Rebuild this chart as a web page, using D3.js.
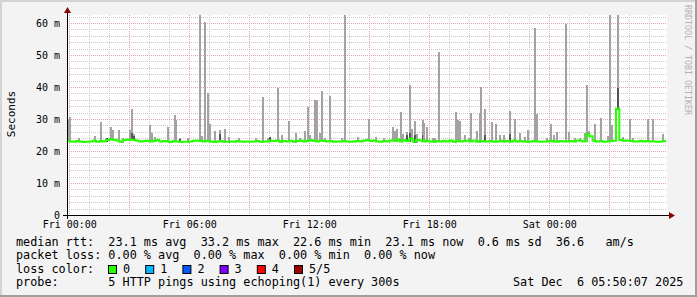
<!DOCTYPE html>
<html>
<head>
<meta charset="utf-8">
<script src="https://cdn.jsdelivr.net/npm/d3@7"></script>
<style>
  html, body { margin: 0; padding: 0; background: #f3f3f3; }
  svg { display: block; }
  text { font-family: "DejaVu Sans Mono", monospace; white-space: pre; fill: #000; }
</style>
</head>
<body>
<svg id="chart" width="697" height="297"></svg>
<script>
// ── Data ──────────────────────────────────────────────────────────────────────

// median rtt (ms), 10 minute steps starting Thu 23:50
const medianRtt = [
  23.3, 23.0, 22.9, 23.1, 23.0, 22.8,
  22.9, 23.0, 23.2, 22.9, 23.1, 23.0,
  23.4, 23.7, 23.5, 23.3, 22.9, 23.4,
  23.5, 23.6, 23.4, 23.2, 23.0, 23.1,
  23.2, 23.0, 23.2, 23.4, 23.0, 23.1,
  23.0, 22.8, 23.1, 23.0, 22.8, 22.9,
  22.9, 23.0, 23.2, 23.3, 23.1, 23.0,
  23.2, 23.0, 22.8, 23.0, 23.1, 22.9,
  22.9, 23.0, 22.9, 23.1, 23.0, 22.9,
  23.0, 22.9, 23.0, 23.1, 22.9, 23.0,
  23.0, 23.2, 23.1, 23.3, 22.9, 23.1,
  23.0, 23.2, 22.9, 23.1, 23.3, 23.0,
  23.2, 23.4, 23.1, 23.0, 23.3, 23.1,
  23.0, 23.1, 22.9, 23.0, 23.0, 23.1,
  23.0, 22.9, 23.0, 23.1, 23.0, 23.2,
  23.4, 23.1, 23.3, 23.0, 22.9, 23.1,
  23.0, 23.3, 23.2, 23.6, 23.0, 23.4,
  23.1, 23.8, 22.9, 23.5, 23.3, 23.0,
  23.3, 23.0, 22.9, 23.1, 23.0, 23.2,
  23.0, 23.3, 22.9, 23.2, 23.0, 23.1,
  23.2, 23.0, 23.3, 22.9, 23.1, 23.0,
  23.0, 23.1, 22.9, 23.0, 23.2, 23.0,
  23.1, 22.9, 23.3, 23.0, 23.1, 23.0,
  22.9, 23.0, 23.1, 23.0, 22.9, 23.0,
  23.0, 23.2, 23.0, 22.9, 23.1, 23.0,
  23.0, 23.1, 23.0, 23.3, 23.2, 23.0,
  25.2, 24.6, 23.2, 23.0, 23.1, 22.9,
  23.0, 23.1, 23.2, 33.2, 23.4, 23.2,
  23.3, 23.1, 23.0, 23.0, 23.2, 23.0,
  23.1, 23.0, 23.0, 22.9, 23.0, 23.1
];

// smoke spikes: [hours after Fri 00:00, max ping ms, inner ping ms, core ms]
const smoke = [
  [-0.12, 30.0], [-0.03, 30.5], [0.45, 24.2], [1.23, 24.7], [1.51, 29.1],
  [1.83, 24.2, 24.0], [2.03, 27.4], [2.13, 26.7], [2.43, 26.6], [2.63, 24.0],
  [2.96, 26.6], [3.08, 33.1, 25.5], [3.18, 25.4, 24.8], [3.96, 28.1], [4.08, 25.7],
  [4.21, 24.5], [4.86, 27.6], [5.23, 31.3], [5.30, 29.7], [5.50, 24.0, 23.9],
  [5.88, 24.0], [6.48, 70], [6.60, 24.7], [6.73, 60.2], [6.86, 38.2],
  [6.96, 28.4], [7.23, 26.3], [7.46, 26.6, 25.4], [7.73, 26.9], [7.93, 24.5],
  [8.43, 24.0], [9.30, 24.0], [9.63, 37.0], [9.88, 24.0], [9.98, 24.5, 24.3],
  [10.36, 39.8], [10.56, 25.0], [10.93, 29.5], [11.26, 25.6], [11.50, 24.0],
  [11.73, 26.3], [11.86, 33.9], [11.98, 25.0], [12.23, 36.0], [12.33, 36.0],
  [12.50, 25.6], [12.58, 38.9], [12.73, 24.0], [12.96, 37.2], [13.58, 24.0],
  [13.73, 70], [14.38, 24.5], [14.93, 29.9], [15.28, 24.5], [15.68, 24.0],
  [16.13, 27.6], [16.23, 26.3], [16.33, 26.9], [16.53, 32.3], [16.63, 25.4],
  [16.83, 26.0, 25.0], [16.96, 40.6, 25.5], [17.08, 26.9], [17.23, 29.5, 25.0], [17.33, 25.4],
  [17.61, 29.7, 25.0], [17.71, 28.9], [17.81, 27.6], [18.13, 24.0], [18.23, 24.0],
  [18.45, 50.9], [19.30, 32.3], [19.40, 29.7], [19.50, 29.5], [19.73, 25.0],
  [19.93, 24.0], [20.05, 32.0], [20.33, 26.3], [20.46, 32.0], [20.55, 39.9],
  [20.71, 33.2, 25.0], [21.08, 29.1], [21.28, 28.4], [21.50, 25.0], [21.68, 25.0],
  [21.96, 32.5, 25.4], [22.23, 29.9], [22.50, 25.5], [22.73, 24.4], [22.90, 26.6],
  [23.23, 58.4], [23.31, 31.6], [23.83, 24.0], [24.05, 28.4], [24.20, 25.0],
  [24.33, 26.0], [24.76, 59.7], [24.93, 26.0], [25.23, 24.0], [25.46, 24.0],
  [25.73, 25.6], [25.83, 40.6], [25.93, 26.3, 25.6], [26.23, 28.4], [26.51, 30.3],
  [26.88, 24.8], [26.96, 70], [27.06, 28.1], [27.40, 70, 39.8, 33.1], [27.63, 24.5],
  [27.98, 29.9], [28.13, 24.0], [28.88, 29.9], [29.13, 29.9], [29.63, 25.4]
];

const yTicks = [0, 10, 20, 30, 40, 50, 60];
const xLabelHours = [0, 6, 12, 18, 24];

const legendRows = [
  'median rtt:  23.1 ms avg  33.2 ms max  22.6 ms min  23.1 ms now  0.6 ms sd  36.6   am/s',
  'packet loss: 0.00 % avg  0.00 % max  0.00 % min  0.00 % now',
  'loss color:',
  'probe:       5 HTTP pings using echoping(1) every 300s'
];
const lossLabels = ['0', '1', '2', '3', '4', '5/5'];
const lossColors = ['#26ff00', '#00b8ff', '#0059ff', '#7e00ff', '#ff0000', '#a10000'];
const stamp = 'Sat Dec  6 05:50:07 2025';

// ── Scales ────────────────────────────────────────────────────────────────────

const fri0 = new Date(2025, 11, 5, 0, 0);
const at = h => new Date(+fri0 + h * 36e5);

const pL = 67, pR = 667, pT = 15, pB = 215;
const x = d3.scaleTime().domain([at(-0.115), at(29.885)]).range([pL, pR]);
const y = d3.scaleLinear().domain([0, 62.5]).range([pB, pT]);

const svg = d3.select('#chart');

// ── Frame ─────────────────────────────────────────────────────────────────────

svg.append('rect').attr('width', 697).attr('height', 297).attr('fill', '#f3f3f3');
svg.append('rect').attr('x', 0).attr('y', 0).attr('width', 697).attr('height', 2).attr('fill', '#d4d4d4');
svg.append('rect').attr('x', 0).attr('y', 0).attr('width', 2).attr('height', 297).attr('fill', '#d4d4d4');
svg.append('rect').attr('x', 0).attr('y', 295).attr('width', 697).attr('height', 2).attr('fill', '#9e9e9e');
svg.append('rect').attr('x', 695).attr('y', 0).attr('width', 2).attr('height', 297).attr('fill', '#9e9e9e');

svg.append('rect')
  .attr('x', pL).attr('y', pT)
  .attr('width', pR - pL).attr('height', pB - pT)
  .attr('fill', '#fff');

svg.append('clipPath').attr('id', 'plot')
  .append('rect').attr('x', pL).attr('y', pT)
  .attr('width', pR - pL).attr('height', pB - pT);

// ── Grid ──────────────────────────────────────────────────────────────────────

const grid = svg.append('g').attr('shape-rendering', 'crispEdges');

const hourTicks = d3.timeHour.range(x.domain()[0], x.domain()[1]);
const minorX = hourTicks.filter(d => d.getHours() % 3 !== 0);
const majorX = hourTicks.filter(d => d.getHours() % 3 === 0);
const minorY = d3.range(2, 63, 2).filter(v => v % 10 !== 0);
const majorY = yTicks.filter(v => v > 0);

function vLines(data, color) {
  grid.append('g').selectAll('line').data(data).join('line')
    .attr('x1', d => Math.round(x(d)) + 0.5).attr('x2', d => Math.round(x(d)) + 0.5)
    .attr('y1', pT).attr('y2', pB)
    .attr('stroke', color).attr('stroke-dasharray', '1,1');
}
function hLines(data, color) {
  grid.append('g').selectAll('line').data(data).join('line')
    .attr('y1', d => Math.round(y(d)) + 0.5).attr('y2', d => Math.round(y(d)) + 0.5)
    .attr('x1', pL).attr('x2', pR)
    .attr('stroke', color).attr('stroke-dasharray', '1,1');
}
vLines(minorX, '#c9c9c9');
hLines(minorY, '#c9c9c9');
vLines(majorX, '#e2a4a4');
hLines(majorY, '#e2a4a4');

// ── Smoke ─────────────────────────────────────────────────────────────────────

const medianAt = h => medianRtt[Math.max(0, Math.min(medianRtt.length - 1, Math.floor((h + 1 / 6) * 6)))];
const plot = svg.append('g').attr('clip-path', 'url(#plot)').attr('shape-rendering', 'crispEdges');

function band(d, from, to, color) {
  plot.append('rect')
    .attr('x', Math.round(x(at(d[0]))))
    .attr('width', 2)
    .attr('y', y(to))
    .attr('height', Math.max(0, y(from) - y(to)))
    .attr('fill', color);
}
smoke.forEach(d => {
  const base = medianAt(d[0]) - 0.3;
  band(d, base, d[1], '#a3a3a3');
  if (d[2] != null) band(d, base, d[2], '#555');
  if (d[3] != null) band(d, base, d[3], '#1c1c1c');
});

// ── Median line ───────────────────────────────────────────────────────────────

const medPts = medianRtt.map((v, i) => [at(-1 / 6 + i / 6), v]);
medPts.push([at(-1 / 6 + medianRtt.length / 6), medianRtt[medianRtt.length - 1]]);

svg.append('path')
  .attr('clip-path', 'url(#plot)')
  .datum(medPts)
  .attr('fill', 'none')
  .attr('stroke', lossColors[0])
  .attr('stroke-width', 2)
  .attr('d', d3.line().x(d => x(d[0])).y(d => y(d[1])).curve(d3.curveStepAfter));

// ── Axes ──────────────────────────────────────────────────────────────────────

const yAxis = svg.append('g')
  .attr('transform', `translate(${pL},0)`)
  .call(d3.axisLeft(y).tickValues(yTicks).tickSize(0).tickPadding(7)
    .tickFormat(d => d === 0 ? '0' : d + ' m'));
yAxis.select('.domain').remove();
yAxis.selectAll('text').attr('font-size', 10).attr('font-family', 'DejaVu Sans Mono').attr('fill', '#000');

const xAxis = svg.append('g')
  .attr('transform', `translate(0,${pB})`)
  .call(d3.axisBottom(x).tickValues(xLabelHours.map(at)).tickSize(0).tickPadding(0)
    .tickFormat(d3.timeFormat('%a %H:%M')));
xAxis.select('.domain').remove();
xAxis.selectAll('text').attr('font-size', 10).attr('font-family', 'DejaVu Sans Mono')
  .attr('fill', '#000').attr('dy', null).attr('y', 13);

svg.append('line').attr('x1', pL - 4).attr('x2', pR + 3)
  .attr('y1', pB + 0.5).attr('y2', pB + 0.5).attr('stroke', '#000');
svg.append('line').attr('x1', pL + 0.5).attr('x2', pL + 0.5)
  .attr('y1', pB + 4).attr('y2', pT - 3).attr('stroke', '#000');
svg.append('path').attr('fill', '#8b0000')
  .attr('d', `M${pL - 3},${pT - 2}L${pL + 0.5},${pT - 8}L${pL + 4},${pT - 2}Z`);
svg.append('path').attr('fill', '#8b0000')
  .attr('d', `M${pR + 2},${pB - 3}L${pR + 8},${pB + 0.5}L${pR + 2},${pB + 4}Z`);

svg.append('text')
  .attr('transform', 'translate(15,114) rotate(-90)')
  .attr('text-anchor', 'middle')
  .attr('font-size', 11)
  .text('Seconds');

svg.append('text')
  .attr('transform', 'translate(685,5) rotate(90)')
  .attr('font-size', 8.3)
  .style('fill', '#b2b2b2')
  .text('RRDTOOL / TOBI OETIKER');

// ── Legend ────────────────────────────────────────────────────────────────────

const baselines = [245.5, 259, 272.5, 286];
legendRows.forEach((row, i) => {
  svg.append('text').attr('x', 16).attr('y', baselines[i]).attr('font-size', 11.8).text(row);
});

const lossX = d3.scalePoint().domain(lossLabels).range([108.5, 294.5]);
lossLabels.forEach((l, i) => {
  svg.append('rect')
    .attr('x', lossX(l)).attr('y', 265.5).attr('width', 8).attr('height', 8)
    .attr('fill', lossColors[i]).attr('stroke', '#000').attr('stroke-width', 1);
  svg.append('text').attr('x', lossX(l) + 14.5).attr('y', baselines[2])
    .attr('font-size', 11.8).text(l);
});

svg.append('text').attr('x', 513).attr('y', baselines[3]).attr('font-size', 11.8).text(stamp);
</script>
</body>
</html>
